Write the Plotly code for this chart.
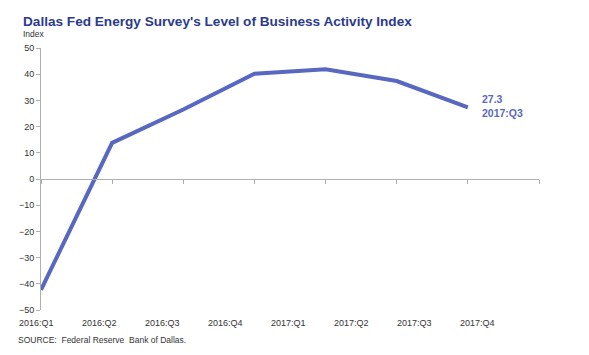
import plotly.graph_objects as go

quarters = ["2016:Q1", "2016:Q2", "2016:Q3", "2016:Q4", "2017:Q1", "2017:Q2", "2017:Q3", "2017:Q4"]
activity = [-42.3, 13.8, 26.5, 40.2, 41.9, 37.4, 27.3]
y_ticks = [-50, -40, -30, -20, -10, 0, 10, 20, 30, 40, 50]

LINE = "#5868c0"
FONT = "Liberation Sans, Arial, sans-serif"

x_idx = list(range(len(quarters)))

fig = go.Figure()
fig.add_trace(go.Scatter(
    x=x_idx[:len(activity)], y=activity, mode="lines",
    line=dict(color=LINE, width=4), hoverinfo="skip", showlegend=False,
))

# page body has an 8px margin: work in window pixels, convert to figure pixels
OFF = 8
W, H = 589 - OFF, 355 - OFF
left, right, top, bottom = 41, 539, 48, 310   # plot area in window pixels
ml, mr, mt, mb = left - OFF, W - (right - OFF), top - OFF, H - (bottom - OFF)
pw = right - left
ph = bottom - top


def px(x):
    return (x - left) / pw


def py(y):
    return (bottom - y) / ph


fig.update_layout(
    width=W, height=H,
    margin=dict(l=ml, r=mr, t=mt, b=mb, autoexpand=False),
    paper_bgcolor="white", plot_bgcolor="white",
    font=dict(family=FONT, size=9, color="#333333"),
    xaxis=dict(
        range=[0, len(quarters) - 1], tickvals=x_idx, showticklabels=False,
        showgrid=False, zeroline=False, showline=True, linecolor="#b0b0b0", linewidth=1,
        ticks="outside", ticklen=4, tickcolor="#b0b0b0",
        anchor="free", position=0.5, automargin=False,
    ),
    yaxis=dict(
        range=[-50, 50], tickvals=y_ticks, showgrid=False, zeroline=False,
        showline=True, linecolor="#b0b0b0", linewidth=1,
        ticks="outside", ticklen=4, tickcolor="#b0b0b0",
        tickfont=dict(size=9, color="#333333"), automargin=False,
    ),
)

annotations = [
    dict(text="<b>Dallas Fed Energy Survey's Level of Business Activity Index</b>",
         xref="paper", yref="paper", x=px(21), y=py(22),
         xanchor="left", yanchor="middle", showarrow=False,
         font=dict(size=13.6, color="#2b3a8c", family=FONT)),
    dict(text="Index", xref="paper", yref="paper", x=px(21), y=py(34),
         xanchor="left", yanchor="middle",
         showarrow=False, font=dict(size=8.5, color="#333333")),
    dict(text="SOURCE:  Federal Reserve  Bank of Dallas.", xref="paper", yref="paper",
         x=px(16), y=py(340),
         xanchor="left", yanchor="middle", showarrow=False,
         font=dict(size=8.5, color="#333333")),
    dict(text="<b>%.1f<br>%s</b>" % (activity[-1], quarters[len(activity) - 1]),
         xref="x", yref="y", x=len(activity) - 1, y=activity[-1],
         xanchor="left", yanchor="bottom", xshift=12, yshift=-14, align="left",
         showarrow=False, font=dict(size=10.5, color=LINE)),
]

# category labels along the bottom (spaced as in the original export)
label_step = 63.0
for i, q in enumerate(quarters):
    annotations.append(dict(
        text=q, xref="paper", yref="paper", x=px(36 + label_step * i),
        y=py(323), xanchor="center", yanchor="middle",
        showarrow=False, font=dict(size=9, color="#333333")))

fig.update_layout(annotations=annotations)
fig.write_html("out.html")
